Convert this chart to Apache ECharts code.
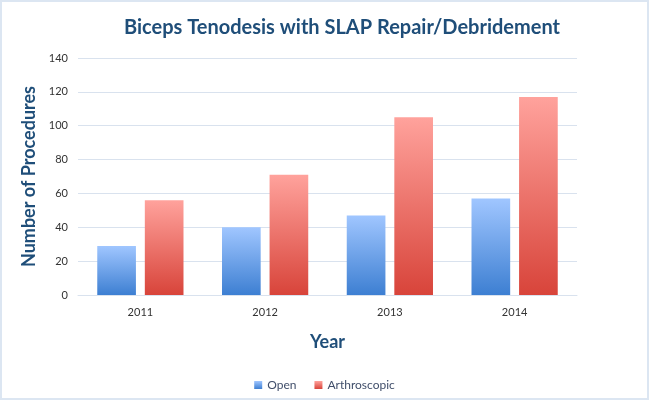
<!DOCTYPE html>
<html><head><meta charset="utf-8">
<script src="https://cdn.jsdelivr.net/npm/echarts@6/dist/echarts.min.js"></script>
<style>html,body{margin:0;padding:0;background:#fff}#c{width:649px;height:400px;box-sizing:border-box;border:2px solid #dce6f2}</style>
</head><body><div id="c"></div>
<script>
var categories = ['2011', '2012', '2013', '2014'];
var openValues = [29, 40, 47, 57];
var arthroValues = [56, 71, 105, 117];
var yTicks = [0, 20, 40, 60, 80, 100, 120, 140];

var chart = echarts.init(document.getElementById('c'));
function grad(top, bottom) {
  return new echarts.graphic.LinearGradient(0, 0, 0, 1, [{offset: 0, color: top}, {offset: 1, color: bottom}]);
}
chart.setOption({
  animation: false,
  title: {
    text: 'Biceps Tenodesis with SLAP Repair/Debridement',
    left: 335, top: 11, textAlign: 'center',
    textStyle: {fontFamily: 'Lato', fontWeight: 'bold', fontSize: 20, color: '#1f4e79'}
  },
  legend: {
    data: ['Open', 'Arthroscopic'],
    left: 'center', top: 372,
    itemWidth: 8, itemHeight: 8, itemGap: 18,
    icon: 'rect',
    textStyle: {fontFamily: 'Lato', fontSize: 12, color: '#404e6a'}
  },
  grid: {left: 76, right: 70, top: 56, bottom: 103},
  xAxis: {
    type: 'category', data: categories,
    name: 'Year', nameLocation: 'middle', nameGap: 38,
    nameTextStyle: {fontFamily: 'Lato', fontWeight: 'bold', fontSize: 18, color: '#1f4e79'},
    axisLine: {lineStyle: {color: '#d9e2ee'}},
    axisTick: {show: false},
    axisLabel: {fontFamily: 'Lato', fontSize: 11, color: '#333', margin: 12}
  },
  yAxis: {
    type: 'value', min: 0, max: 140, interval: 20,
    name: 'Number of Procedures', nameLocation: 'middle', nameGap: 34,
    nameTextStyle: {fontFamily: 'Lato', fontWeight: 'bold', fontSize: 18, color: '#1f4e79'},
    axisLine: {show: false}, axisTick: {show: false},
    axisLabel: {fontFamily: 'Lato', fontSize: 11, color: '#333', margin: 10,
      formatter: function (v) { return yTicks.indexOf(v) >= 0 ? String(v) : ''; }},
    splitLine: {lineStyle: {color: '#d9e2ee'}}
  },
  series: [
    {name: 'Open', type: 'bar', data: openValues, barWidth: '31%', barGap: '23%',
     itemStyle: {color: grad('#a0c6ff', '#3d7fd2')}},
    {name: 'Arthroscopic', type: 'bar', data: arthroValues, barWidth: '31%',
     itemStyle: {color: grad('#ffa29c', '#d8443a')}}
  ]
});
</script></body></html>
